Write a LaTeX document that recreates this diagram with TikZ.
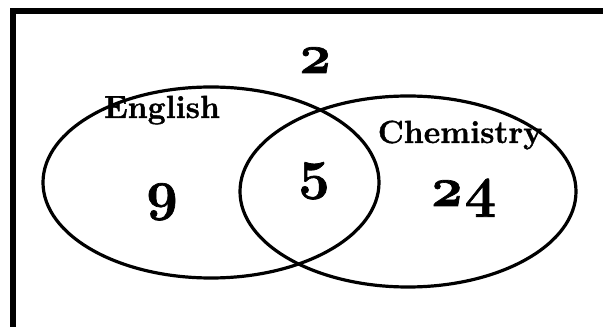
\documentclass[tikz,border=0pt]{standalone}
\usepackage{fontspec}
\setmainfont{Latin Modern Roman}[Numbers=OldStyle, BoldFeatures={FakeBold=1.2}]
\usepackage{tikz}
\usetikzlibrary{shapes.geometric}

\begin{document}
\begin{tikzpicture}[
    x=0.75pt, y=-0.75pt,
    setbox/.style={ellipse, draw=black, line width=2.4pt, minimum width=252pt, minimum height=143.25pt, inner sep=0pt},
    setname/.style={anchor=base, inner sep=0pt, font=\fontsize{24}{28}\selectfont\bfseries},
    count/.style={anchor=base, inner sep=0pt, font=\fontsize{42}{48}\selectfont\bfseries}
]
    \useasboundingbox (0,0) rectangle (603,327);
    \clip (0,0) rectangle (603,327);

    % Frame (only top and left edges show)
    \coordinate (frame_bl) at (13,340);
    \coordinate (frame_tl) at (13,11);
    \coordinate (frame_tr) at (620,11);
    \draw [line width=4.5pt] (frame_bl) -- (frame_tl) -- (frame_tr);

    % The two sets
    \node (english) [setbox] at (211,182.5) {};
    \node (chemistry) [setbox] at (408,191.5) {};

    % Set names
    \node (english_lbl) [setname] at (162,118) {English};
    \node (chemistry_lbl) [setname] at (460,143) {Chemistry};

    % Counts
    \node (outside) [count] at (315,73) {2};
    \node (only_eng) [count] at (162,209) {9};
    \node (both) [count] at (314,188) {5};
    \node (only_chem) [count] at (463,206) {24};

\end{tikzpicture}
\end{document}
